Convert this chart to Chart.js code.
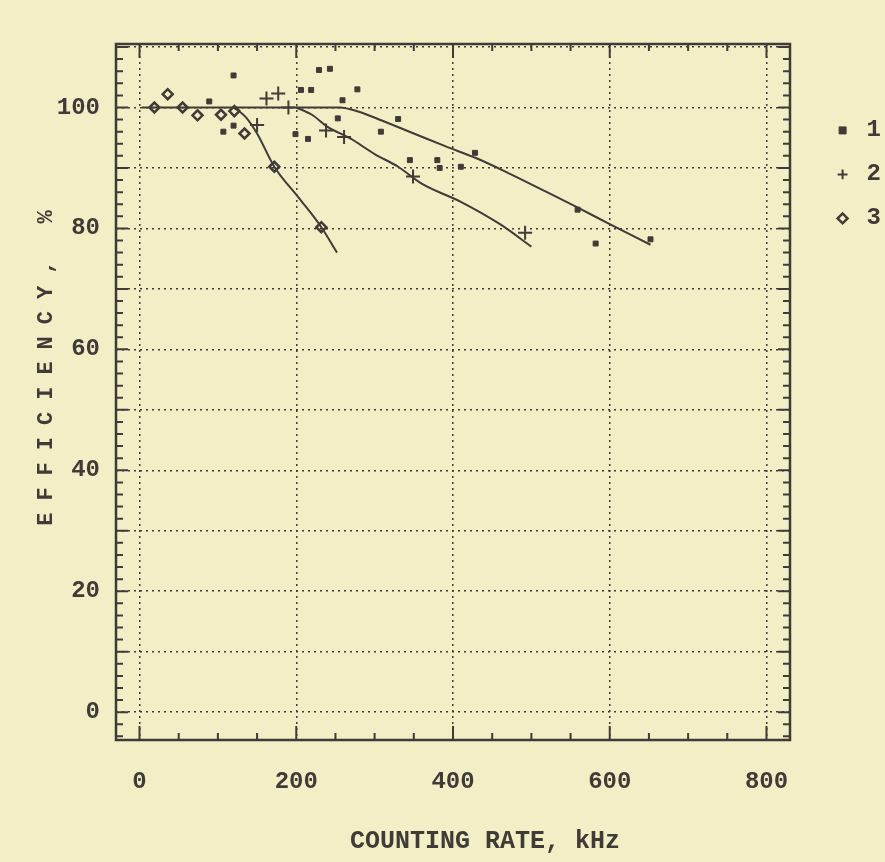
<!DOCTYPE html>
<html>
<head>
<meta charset="utf-8">
<script src="https://cdn.jsdelivr.net/npm/chart.js@4"></script>
<style>
  html, body { margin: 0; padding: 0; background: #f2eec6; }
  #wrap { width: 885px; height: 862px; }
</style>
</head>
<body>
<div id="wrap"><canvas id="effChart"></canvas></div>
<script>
// measured points: counting rate (kHz) / efficiency (%)
const s1Rate = [89, 107, 120, 120, 199, 206, 215, 219, 229, 243, 253, 259, 278, 308, 330, 345, 380, 383, 410, 428, 559, 582, 652];
const s1Eff  = [101, 96, 105.3, 97, 95.6, 102.9, 94.8, 102.9, 106.2, 106.4, 98.2, 101.2, 103, 96, 98.1, 91.3, 91.3, 90, 90.2, 92.5, 83.1, 77.5, 78.2];

const s2Rate = [150, 162, 177, 190, 238, 261, 349, 492];
const s2Eff  = [97.1, 101.5, 102.3, 100, 96.2, 95.1, 88.6, 79.3];

const s3Rate = [19, 36, 55, 74, 104, 121, 134, 172, 232];
const s3Eff  = [100, 102.2, 100, 98.7, 98.8, 99.4, 95.7, 90.2, 80.2];

// hand drawn fit curves
const fit1Rate = [3, 255, 280, 310, 350, 390, 430, 470, 520, 560, 600, 652];
const fit1Eff  = [100, 100, 99.3, 97.8, 95.7, 93.6, 91.6, 89.2, 86, 83.4, 80.7, 77.3];
const fit2Rate = [200, 220, 240, 270, 300, 330, 360, 410, 460, 500];
const fit2Eff  = [100, 98.8, 96.8, 94.8, 92.3, 90.2, 87.4, 84.4, 80.7, 77];
const fit3Rate = [120, 135, 150, 172, 203, 232, 252];
const fit3Eff  = [100, 98.5, 95.7, 90.2, 85.1, 80.2, 76];

const xTicks = [0, 200, 400, 600, 800];
const yTicks = [0, 10, 20, 30, 40, 50, 60, 70, 80, 90, 100, 110];
const yLabeled = [0, 20, 40, 60, 80, 100];

const INK = 'rgb(66, 58, 54)';
const PAPER = 'rgb(242, 238, 198)';
const FONT = "'Liberation Mono', 'DejaVu Sans Mono', monospace";

function pts(xs, ys) {
    return xs.map((x, i) => ({ x: x, y: ys[i] }));
}

const paperAndFrame = {
    id: 'paperAndFrame',
    beforeDraw(chart) {
        const ctx = chart.ctx;
        ctx.save();
        ctx.fillStyle = PAPER;
        ctx.fillRect(0, 0, chart.width, chart.height);
        ctx.restore();
    },
    afterDraw(chart) {
        const { ctx, chartArea: a, scales: { x, y } } = chart;
        ctx.save();
        ctx.strokeStyle = INK;
        ctx.lineWidth = 2;
        ctx.beginPath();
        // ticks pointing inward on all four sides
        for (let v = 0; v <= 800; v += 50) {
            const px = x.getPixelForValue(v);
            const len = v % 200 === 0 ? 14 : 7;
            ctx.moveTo(px, a.bottom); ctx.lineTo(px, a.bottom - len);
            ctx.moveTo(px, a.top); ctx.lineTo(px, a.top + len);
        }
        for (let v = -4; v <= 110; v += 2) {
            const py = y.getPixelForValue(v);
            const len = v % 10 === 0 ? 12 : 7;
            ctx.moveTo(a.left, py); ctx.lineTo(a.left + len, py);
            ctx.moveTo(a.right, py); ctx.lineTo(a.right - len, py);
        }
        ctx.stroke();
        ctx.lineWidth = 2.5;
        ctx.strokeRect(a.left, a.top, a.width, a.height);

        // axis titles
        ctx.fillStyle = INK;
        ctx.font = 'bold 25px ' + FONT;
        ctx.textAlign = 'center';
        ctx.textBaseline = 'middle';
        ctx.fillText('COUNTING RATE, kHz', 485, 842);
        ctx.translate(46, 368);
        ctx.rotate(-Math.PI / 2);
        ctx.font = 'bold 22px ' + FONT;
        ctx.letterSpacing = '12px';
        ctx.fillText('EFFICIENCY, %', 6, 0);
        ctx.restore();
    }
};

const fitStyle = {
    borderColor: INK,
    borderWidth: 2,
    pointRadius: 0,
    showLine: true,
    cubicInterpolationMode: 'monotone',
    fill: false
};

new Chart(document.getElementById('effChart'), {
    type: 'scatter',
    data: {
        datasets: [
            { label: '1', data: pts(s1Rate, s1Eff), pointStyle: 'rect', pointRadius: 3.5, backgroundColor: INK, borderColor: INK, borderWidth: 1 },
            { label: '2', data: pts(s2Rate, s2Eff), pointStyle: 'cross', pointRadius: 7, backgroundColor: INK, borderColor: INK, borderWidth: 2 },
            { label: '3', data: pts(s3Rate, s3Eff), pointStyle: 'rectRot', pointRadius: 5, backgroundColor: 'rgba(0,0,0,0)', borderColor: INK, borderWidth: 2.5 },
            Object.assign({ label: 'fit1', data: pts(fit1Rate, fit1Eff) }, fitStyle),
            Object.assign({ label: 'fit2', data: pts(fit2Rate, fit2Eff) }, fitStyle),
            Object.assign({ label: 'fit3', data: pts(fit3Rate, fit3Eff) }, fitStyle)
        ]
    },
    options: {
        responsive: true,
        maintainAspectRatio: false,
        animation: false,
        layout: { padding: { left: 56, top: 44, right: -6, bottom: 0 } },
        plugins: {
            tooltip: { enabled: false },
            legend: {
                position: 'right',
                align: 'start',
                title: { display: true, text: ' ', padding: { top: 40, bottom: 0 } },
                labels: {
                    usePointStyle: true,
                    boxWidth: 24,
                    boxHeight: 7,
                    padding: 20,
                    color: INK,
                    font: { family: FONT, size: 24, weight: 'bold' },
                    filter: item => !item.text.startsWith('fit')
                }
            }
        },
        scales: {
            x: {
                type: 'linear',
                min: -30,
                max: 830,
                afterBuildTicks: s => { s.ticks = xTicks.map(v => ({ value: v })); },
                afterFit: s => { s.height = 122; },
                grid: { color: INK, lineWidth: 1.5, drawTicks: false },
                border: { display: false, dash: [2, 4] },
                ticks: { color: INK, padding: 28, font: { family: FONT, size: 24, weight: 'bold' } }
            },
            y: {
                type: 'linear',
                min: -4.6,
                max: 110.5,
                afterBuildTicks: s => { s.ticks = yTicks.map(v => ({ value: v })); },
                afterFit: s => { s.width = 60; },
                grid: { color: INK, lineWidth: 1.5, drawTicks: false },
                border: { display: false, dash: [2, 4] },
                ticks: {
                    color: INK,
                    padding: 16,
                    font: { family: FONT, size: 24, weight: 'bold' },
                    callback: v => yLabeled.includes(v) ? String(v) : ''
                }
            },
            // empty strip between the frame and the legend
            gap: {
                type: 'linear',
                position: 'right',
                grid: { display: false, drawTicks: false },
                border: { display: false },
                ticks: { display: false },
                afterFit: s => { s.width = 20.6; }
            }
        }
    },
    plugins: [paperAndFrame]
});
</script>
</body>
</html>
